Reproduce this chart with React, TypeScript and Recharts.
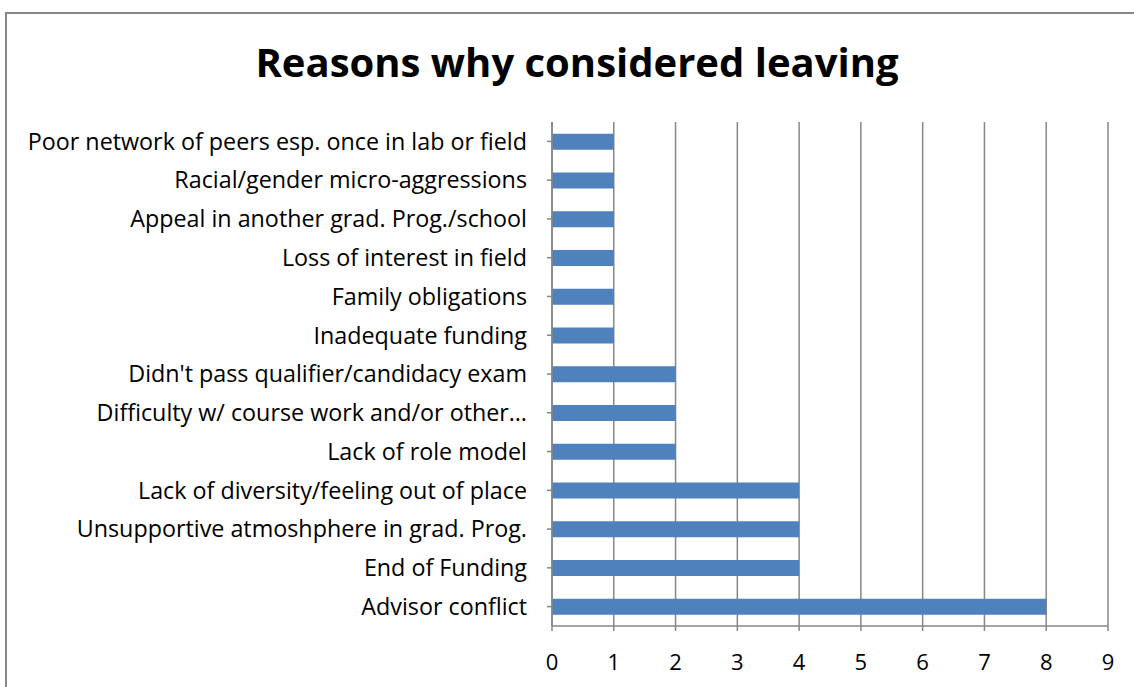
import { Bar, BarChart, CartesianGrid, XAxis, YAxis } from 'recharts';

const reasons = [
  'Poor network of peers esp. once in lab or field',
  'Racial/gender micro-aggressions',
  'Appeal in another grad. Prog./school',
  'Loss of interest in field',
  'Family obligations',
  'Inadequate funding',
  "Didn't pass qualifier/candidacy exam",
  'Difficulty w/ course work and/or other…',
  'Lack of role model',
  'Lack of diversity/feeling out of place',
  'Unsupportive atmoshphere in grad. Prog.',
  'End of Funding',
  'Advisor conflict',
];

const counts = [1, 1, 1, 1, 1, 1, 2, 2, 2, 4, 4, 4, 8];

const xTicks = [0, 1, 2, 3, 4, 5, 6, 7, 8, 9];

const rows = reasons.map((reason, i) => ({ reason, count: counts[i] }));

const gray = '#878787';
const font = '"Open Sans", Lato, sans-serif';

export default function App() {
  return (
    <div style={{ position: 'absolute', left: 0, top: 0, width: 1134, height: 687, overflow: 'hidden', background: '#fff' }}>
      <div
        style={{
          position: 'absolute',
          left: 5,
          top: 12,
          width: 1200,
          height: 800,
          borderLeft: `2px solid ${gray}`,
          borderTop: `2px solid ${gray}`,
        }}
      />
      <div
        style={{
          position: 'absolute',
          left: 0,
          top: 34,
          width: 1154,
          textAlign: 'center',
          fontFamily: font,
          fontWeight: 700,
          fontSize: 40,
          lineHeight: '56px',
          color: '#000',
        }}
      >
        Reasons why considered leaving
      </div>
      <div style={{ position: 'absolute', left: 0, top: 0 }}>
        <BarChart
          width={1134}
          height={687}
          data={rows}
          layout="vertical"
          margin={{ top: 122, right: 26, bottom: 31, left: 0 }}
          barCategoryGap="30%"
        >
          <CartesianGrid horizontal={false} stroke={gray} strokeWidth={1.5} />
          <XAxis
            type="number"
            domain={[0, 9]}
            ticks={xTicks}
            interval={0}
            stroke={gray}
            strokeWidth={1.5}
            tickSize={5}
            tickMargin={23}
            tick={{ fill: '#000', fontSize: 22, fontFamily: font }}
          />
          <YAxis
            type="category"
            dataKey="reason"
            width={552}
            interval={0}
            stroke={gray}
            strokeWidth={1.5}
            tickSize={5}
            tickMargin={20}
            tick={{ fill: '#000', fontSize: 23.3, fontFamily: font }}
          />
          <Bar dataKey="count" fill="#4f81bd" isAnimationActive={false} />
        </BarChart>
      </div>
    </div>
  );
}
